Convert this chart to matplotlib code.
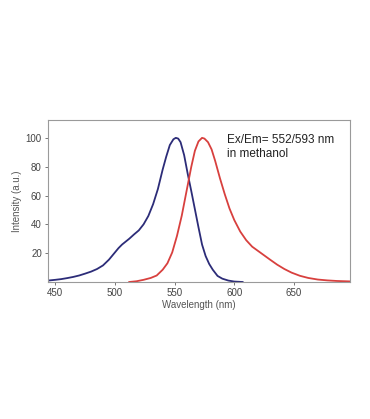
import matplotlib.pyplot as plt

plt.rcParams['font.family'] = ['Liberation Sans', 'DejaVu Sans']

# excitation (absorption) spectrum
ex_wl = [444, 450, 455, 460, 465, 470, 475, 480, 485, 490, 495, 500, 503, 506,
         509, 512, 516, 520, 524, 528, 532, 536, 540, 543, 546, 549, 551, 553,
         555, 558, 561, 564, 567, 570, 573, 576, 579, 582, 586, 590, 595, 600, 607]
ex_int = [1.0, 1.5, 2.0, 2.7, 3.5, 4.5, 5.8, 7.2, 9.0, 11.5, 15.5, 20.5, 23.5, 26,
          28, 30, 33, 35.8, 40, 45.8, 54, 64.5, 78, 87, 95, 99, 100, 99.5,
          97, 88, 75, 63, 50.5, 38, 26, 18, 12.5, 8.5, 4.2, 2.3, 1.0, 0.3, 0.0]

# emission spectrum
em_wl = [512, 518, 524, 530, 535, 540, 544, 548, 552, 556, 560, 564, 567, 570,
         573, 575, 578, 581, 584, 588, 592, 596, 600, 605, 610, 615, 620, 625,
         630, 636, 642, 648, 655, 662, 670, 678, 686, 697]
em_int = [0.0, 0.5, 1.5, 2.8, 4.5, 8.5, 13, 20.5, 32, 46, 63, 80, 91, 97.5,
          100, 99.5, 97, 92, 84, 72, 61, 51, 43, 35, 29, 24.5, 21.5, 18.5,
          15.5, 12, 9, 6.5, 4.3, 2.8, 1.7, 1.1, 0.7, 0.4]

fig = plt.figure(figsize=(3.7, 4.19), dpi=100)
ax = fig.add_axes([0.130, 0.327, 0.816, 0.387])

ax.plot(ex_wl, ex_int, color='#2c2c78', lw=1.3)
ax.plot(em_wl, em_int, color='#d8403e', lw=1.3)

ax.set_xlim(444, 697)
ax.set_ylim(0, 112.5)
ax.set_xticks([450, 500, 550, 600, 650])
ax.set_yticks([20, 40, 60, 80, 100])

for s in ax.spines.values():
    s.set_color('#9a9a9a')
    s.set_linewidth(0.8)
ax.tick_params(direction='out', length=2.5, width=0.7, color='#777777',
               labelsize=7, labelcolor='#444444', pad=2)

ax.set_xlabel('Wavelength (nm)', fontsize=7, color='#555555', labelpad=1)
ax.set_ylabel('Intensity (a.u.)', fontsize=7, color='#555555', labelpad=3)

ax.text(594, 103, 'Ex/Em= 552/593 nm\nin methanol', fontsize=8.5,
        color='#222222', va='top', ha='left', linespacing=1.3)

fig.savefig('out.png', dpi=100, facecolor='white')
